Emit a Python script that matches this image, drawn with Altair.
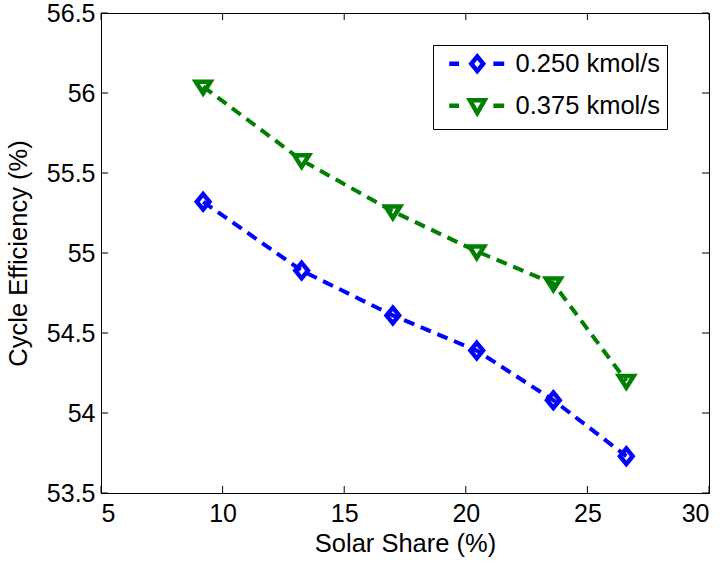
import altair as alt
import pandas as pd

# Solar share (%) at each operating point
solar_share = [9.2, 13.25, 17.0, 20.45, 23.6, 26.6]
# Cycle efficiency (%) for each molar flow rate
eff_0250 = [55.32, 54.89, 54.61, 54.39, 54.08, 53.73]
eff_0375 = [56.04, 55.58, 55.26, 55.01, 54.81, 54.20]

series_names = ["0.250 kmol/s", "0.375 kmol/s"]
series_colors = ["#0000ff", "#008000"]

x_ticks = [5, 10, 15, 20, 25, 30]
y_ticks = [53.5, 54.0, 54.5, 55.0, 55.5, 56.0, 56.5]

rows = []
for name, vals in zip(series_names, [eff_0250, eff_0375]):
    for s, e in zip(solar_share, vals):
        rows.append({"share": s, "eff": e, "series": name})
df = pd.DataFrame(rows)

W, H = 608, 480
FONT = "Liberation Sans"
TICK_FS = 25
TITLE_FS = 25.5

xscale = alt.Scale(domain=[5, 30], nice=False, zero=False)
yscale = alt.Scale(domain=[53.5, 56.5], nice=False, zero=False)
cscale = alt.Scale(domain=series_names, range=series_colors)

# marker outlines (unit path, scaled by sqrt(size)/2)
diamond = "M0,-1.1L0.9,0L0,1.1L-0.9,0Z"
tri_down = "M-1.05,-0.7L1.05,-0.7L0,0.95Z"

# legend glyphs: dash, marker, dash
leg_diamond = "M-4,0L-2.6,0M-0.85,0L0,-1.02L0.85,0L0,1.02ZM2.3,0L3.85,0"
leg_tri = "M-4,0L-2.6,0M-1.05,-0.78L1.05,-0.78L0,1.05ZM2.3,0L3.85,0"

x_axis = alt.Axis(
    values=x_ticks, format="d", ticks=False, grid=False, domainColor="black",
    labelFont=FONT, labelFontSize=TICK_FS, labelColor="black", labelPadding=8,
    title="Solar Share (%)", titleFont=FONT, titleFontSize=TITLE_FS,
    titleFontWeight="normal", titleColor="black", titlePadding=5,
)
y_axis = alt.Axis(
    values=y_ticks, format=".1~f", ticks=False, grid=False, domainColor="black",
    labelFont=FONT, labelFontSize=TICK_FS, labelColor="black", labelPadding=6,
    title="Cycle Efficiency (%)", titleFont=FONT, titleFontSize=TITLE_FS,
    titleFontWeight="normal", titleColor="black", titlePadding=15,
)

legend = alt.Legend(
    orient="none", legendX=332, legendY=32, title=None,
    strokeColor="black", fillColor="white", padding=6,
    labelFont=FONT, labelFontSize=TITLE_FS, labelColor="black",
    symbolSize=196, symbolStrokeWidth=4.5, symbolOffset=25.5,
    labelOffset=25.5, rowPadding=11,
)

X = alt.X("share:Q", scale=xscale, axis=x_axis)
Y = alt.Y("eff:Q", scale=yscale, axis=y_axis)
C = alt.Color("series:N", scale=cscale, legend=legend)

# legend carrier: positioned outside the x domain and clipped away
key = alt.Chart(df).transform_calculate(share="100").mark_point(
    filled=False, strokeWidth=4.5, clip=True, opacity=1
).encode(
    x=X, y=Y, color=C,
    shape=alt.Shape("series:N", scale=alt.Scale(domain=series_names, range=[leg_diamond, leg_tri]), legend=legend),
)

lines = alt.Chart(df).mark_line(strokeWidth=4, strokeDash=[11, 7]).encode(
    x=X, y=Y, color=C, detail="series:N",
)

def markers(name, path):
    return alt.Chart(df).transform_filter(
        alt.datum.series == name
    ).mark_point(shape=path, size=196, filled=False, strokeWidth=4.5, opacity=1).encode(
        x=X, y=Y, color=C,
    )

pts_a = markers(series_names[0], diamond)
pts_b = markers(series_names[1], tri_down)

# inward tick marks on all four sides
xt = pd.DataFrame({"share": x_ticks})
yt = pd.DataFrame({"eff": y_ticks})
TL = 7
tick_b = alt.Chart(xt).mark_rule(color="black", strokeWidth=1).encode(
    x=X, y=alt.value(H), y2=alt.value(H - TL))
tick_t = alt.Chart(xt).mark_rule(color="black", strokeWidth=1).encode(
    x=X, y=alt.value(0), y2=alt.value(TL))
tick_l = alt.Chart(yt).mark_rule(color="black", strokeWidth=1).encode(
    y=Y, x=alt.value(0), x2=alt.value(TL))
tick_r = alt.Chart(yt).mark_rule(color="black", strokeWidth=1).encode(
    y=Y, x=alt.value(W), x2=alt.value(W - TL))

chart = alt.layer(
    key, lines, pts_a, pts_b, tick_b, tick_t, tick_l, tick_r
).properties(
    width=W, height=H,
    autosize=alt.AutoSizeParams(type="none"),
    padding={"left": 101, "top": 13, "right": 15, "bottom": 68},
    background="white",
).configure_view(
    stroke="black", strokeWidth=1
)

chart.save("out.html", embed_options={"renderer": "svg", "actions": False})
